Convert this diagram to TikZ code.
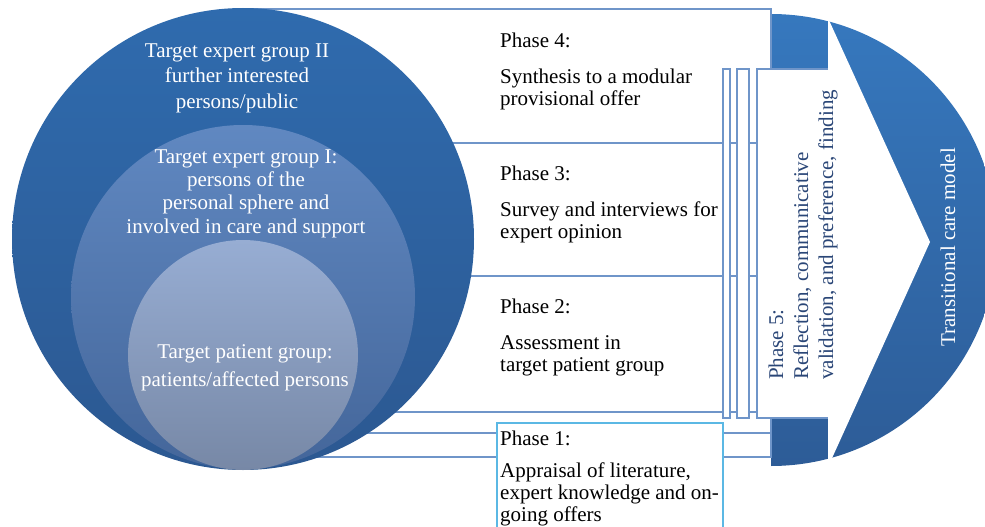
\documentclass[tikz,border=0pt]{standalone}
\usepackage{fontspec}
\setmainfont{Liberation Serif}
\definecolor{lineblue}{HTML}{6F95C9}
\definecolor{cyanb}{HTML}{5BB8E4}
\definecolor{ConeTop}{HTML}{2F6BAE}
\definecolor{ConeBot}{HTML}{2C5891}
\definecolor{CtwoTop}{HTML}{6088C1}
\definecolor{CtwoBot}{HTML}{44669A}
\definecolor{CthreeTop}{HTML}{97ADD3}
\definecolor{CthreeBot}{HTML}{7788A6}
\definecolor{Dtop}{HTML}{3678BE}
\definecolor{Dbot}{HTML}{2D5C97}
\definecolor{pfivecol}{HTML}{2A4677}
\begin{document}
\begin{tikzpicture}[x=1pt,y=-1pt,
  frame/.style={draw=lineblue, fill=white, line width=1.3pt},
  edge/.style={draw=lineblue, line width=1.3pt},
  phasetxt/.style={anchor=base west, align=left, inner sep=0pt, font=\fontsize{21}{22}\selectfont, text=black},
  circtxt/.style={anchor=base, align=center, inner sep=0pt, text=white},
  rottxt/.style={anchor=base west, rotate=90, align=left, inner sep=0pt, font=\fontsize{21}{25}\selectfont}]
\useasboundingbox (0,0) rectangle (985,527);
% big right D-shaped arrow body
\shade[top color=Dtop, bottom color=Dbot] (771,14) arc[start angle=90, end angle=-90, radius=226pt] -- cycle;
% white chevron notch
\fill[white] (828,18) -- (930,242) -- (828,467) -- cycle;
% phase bands
\draw[frame] (243,9) rectangle (771,143);
\draw[frame] (243,143) rectangle (771,276);
\draw[frame] (243,276) rectangle (771,412);
\draw[frame] (243,412) rectangle (771,433);
\draw[frame] (243,433) rectangle (771,457);
% vertical strips
\draw[frame] (723,69) rectangle (730,418);
\draw[frame] (737,69) rectangle (749,418);
% phase 5 box
\fill[white] (757,69) rectangle (828,418);
\draw[edge] (828,69) -- (757,69) -- (757,418) -- (828,418);
% circles
\shade[top color=ConeTop, bottom color=ConeBot] (243,239) circle[radius=231pt];
\shade[top color=CtwoTop, bottom color=CtwoBot] (243,297) circle[radius=172pt];
\shade[top color=CthreeTop, bottom color=CthreeBot] (243,355) circle[radius=115pt];
% phase 1 box
\draw[draw=cyanb, fill=white, line width=1.3pt] (497,423) rectangle (723,532);
% texts (base anchor = baseline of the last line)
\node[circtxt, font=\fontsize{21}{25.5}\selectfont] (gtwo) at (237,108) {Target expert group II\\further interested\\persons/public};
\node[circtxt, font=\fontsize{21}{23.3}\selectfont] (gone) at (246,233) {Target expert group I:\\persons of the\\personal sphere and\\involved in care and support};
\node[circtxt, font=\fontsize{21}{28}\selectfont] (gpat) at (245,386) {Target patient group:\\patients/affected persons};
\node[phasetxt] (pfour) at (500,105) {Phase 4:\\[14pt]Synthesis to a modular\\provisional offer};
\node[phasetxt] (pthree) at (500,238) {Phase 3:\\[14pt]Survey and interviews for\\expert opinion};
\node[phasetxt] (ptwo) at (500,371) {Phase 2:\\[14pt]Assessment in\\target patient group};
\node[phasetxt] (pone) at (500,521) {Phase 1:\\[10pt]Appraisal of literature,\\expert knowledge and on-\\going offers};
\node[rottxt, text=pfivecol] (pfive) at (833,380) {Phase 5:\\Reflection, communicative\\validation, and preference, finding};
\node[rottxt, text=white] (tcm) at (955,347) {Transitional care model};
\end{tikzpicture}
\end{document}
